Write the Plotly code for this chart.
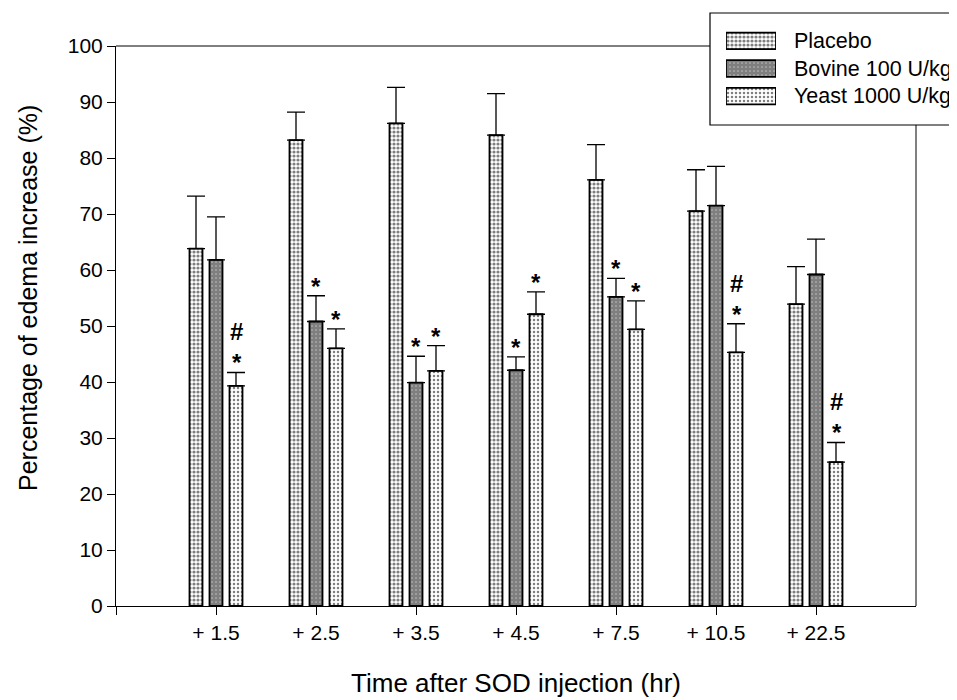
import plotly.graph_objects as go

categories = ["+ 1.5", "+ 2.5", "+ 3.5", "+ 4.5", "+ 7.5", "+ 10.5", "+ 22.5"]
series_names = ["Placebo", "Bovine 100 U/kg", "Yeast 1000 U/kg"]
placebo = [63.8, 83.2, 86.2, 84.1, 76.1, 70.5, 53.9]
placebo_err = [9.4, 5.0, 6.4, 7.4, 6.3, 7.4, 6.7]
bovine = [61.8, 50.8, 39.9, 42.1, 55.2, 71.5, 59.2]
bovine_err = [7.7, 4.6, 4.7, 2.4, 3.3, 7.0, 6.3]
yeast = [39.3, 46.0, 42.0, 52.1, 49.4, 45.3, 25.7]
yeast_err = [2.4, 3.5, 4.5, 4.0, 5.1, 5.1, 3.5]
# significance marks: '*' vs placebo, '#' vs bovine
bovine_marks = ["", "*", "*", "*", "*", "", ""]
yeast_marks = ["#*", "*", "*", "*", "*", "#*", "#*"]

# ---- geometry (figure pixels) ----
W, H = 957, 700
ML, MB = 108, 102          # margins; top/right margins are 0
PW, PH = W - ML, H - MB    # plot-area size in pixels
MAIN_X = (108, 908)        # main plot left/right (fig px)
MAIN_Y = (38, 598)         # main plot top/bottom (fig px)


def px_x(x):
    return (x - ML) / PW


def px_y(y):
    return (PH - y) / PH


x_pos = list(range(1, len(categories) + 1))
values = [placebo, bovine, yeast]
errors = [placebo_err, bovine_err, yeast_err]
marks = [[""] * len(categories), bovine_marks, yeast_marks]
solidity = [0.5, 0.85, 0.3]
psize = [4, 4, 4]

fig = go.Figure()
for name, v, e, s, ps in zip(series_names, values, errors, solidity, psize):
    fig.add_trace(go.Bar(
        x=x_pos, y=v, name=name, showlegend=False,
        marker=dict(color="white", line=dict(color="black", width=1.8),
                    pattern=dict(shape=".", fgcolor="black", bgcolor="white",
                                 size=ps, solidity=s, fillmode="overlay")),
        error_y=dict(type="data", array=e, arrayminus=[0] * len(e), symmetric=False,
                     color="black", thickness=1.3, width=9),
    ))

# legend swatches drawn as bars on their own small axes
fig.add_trace(go.Bar(
    x=[1, 1, 1], y=[0, 1, 2], orientation="h", xaxis="x2", yaxis="y2",
    width=[0.6] * 3, offset=-0.3, showlegend=False, hoverinfo="skip",
    marker=dict(color="white", line=dict(color="black", width=1.8),
                pattern=dict(shape=".", fgcolor="black", bgcolor="white",
                             size=psize, solidity=solidity, fillmode="overlay")),
))

offsets = [-0.2, 0.0, 0.2]
annotations = []
for off, v, e, mk in zip(offsets, values, errors, marks):
    for xi, val, err, m in zip(x_pos, v, e, mk):
        if not m:
            continue
        top = val + err
        text = "<br>".join("<b>%s</b>" % c for c in m)
        annotations.append(dict(x=xi + off, y=top, xref="x", yref="y", text=text,
                                showarrow=False, yanchor="bottom", yshift=-6,
                                font=dict(size=24, color="black")))

# legend texts
legend_text_y = [33, 61, 88]
for name, ty in zip(series_names, legend_text_y):
    annotations.append(dict(x=px_x(784), y=px_y(ty), xref="paper", yref="paper", text=name,
                            showarrow=False, xanchor="left", yanchor="middle",
                            font=dict(size=21.5, color="black")))

# y-axis title (placed as in the reference, slightly above the axis centre)
annotations.append(dict(x=px_x(20), y=px_y(290), xref="paper", yref="paper",
                        text="Percentage of edema increase (%)", textangle=-90,
                        showarrow=False, xanchor="center", yanchor="middle",
                        font=dict(size=25, color="black")))

shapes = [
    # legend box
    dict(type="rect", xref="paper", yref="paper", x0=px_x(702), x1=px_x(965),
         y0=px_y(5), y1=px_y(117), line=dict(color="black", width=1.2),
         fillcolor="white", layer="below"),
    # top frame line (to the legend box)
    dict(type="line", xref="paper", yref="paper", x0=px_x(MAIN_X[0]), x1=px_x(702),
         y0=px_y(MAIN_Y[0]), y1=px_y(MAIN_Y[0]), line=dict(color="black", width=1)),
    # right frame line (below the legend box)
    dict(type="line", xref="paper", yref="paper", x0=px_x(MAIN_X[1]), x1=px_x(MAIN_X[1]),
         y0=px_y(117), y1=px_y(MAIN_Y[1]), line=dict(color="black", width=1)),
]

fig.update_layout(
    width=W, height=H,
    margin=dict(l=ML, r=0, t=0, b=MB, autoexpand=False),
    paper_bgcolor="white", plot_bgcolor="rgba(0,0,0,0)",
    font=dict(family="Liberation Sans, Arial, sans-serif", color="black", size=21),
    barmode="group", bargap=0.4, bargroupgap=0.35,
    showlegend=False,
    annotations=annotations,
    shapes=shapes,
    xaxis=dict(
        domain=[px_x(MAIN_X[0]), px_x(MAIN_X[1])],
        range=[0, 8], tickvals=[0] + x_pos, ticktext=[""] + categories,
        showline=True, linecolor="black", linewidth=1, mirror=False,
        ticks="outside", ticklen=8, tickcolor="black", showgrid=False, zeroline=False,
        tickfont=dict(size=21),
        title=dict(text="Time after SOD injection (hr)", font=dict(size=26), standoff=30),
    ),
    yaxis=dict(
        domain=[px_y(MAIN_Y[1]), px_y(MAIN_Y[0])],
        range=[0, 100], dtick=10,
        showline=True, linecolor="black", linewidth=1, mirror=False,
        ticks="outside", ticklen=8, tickcolor="black", showgrid=False, zeroline=False,
        tickfont=dict(size=21),
    ),
    xaxis2=dict(domain=[px_x(718), px_x(768)], range=[0, 1], visible=False,
                anchor="y2", fixedrange=True),
    yaxis2=dict(domain=[px_y(102), px_y(19)], range=[2.5, -0.5], visible=False,
                anchor="x2", fixedrange=True),
)
fig.write_html("out.html")
